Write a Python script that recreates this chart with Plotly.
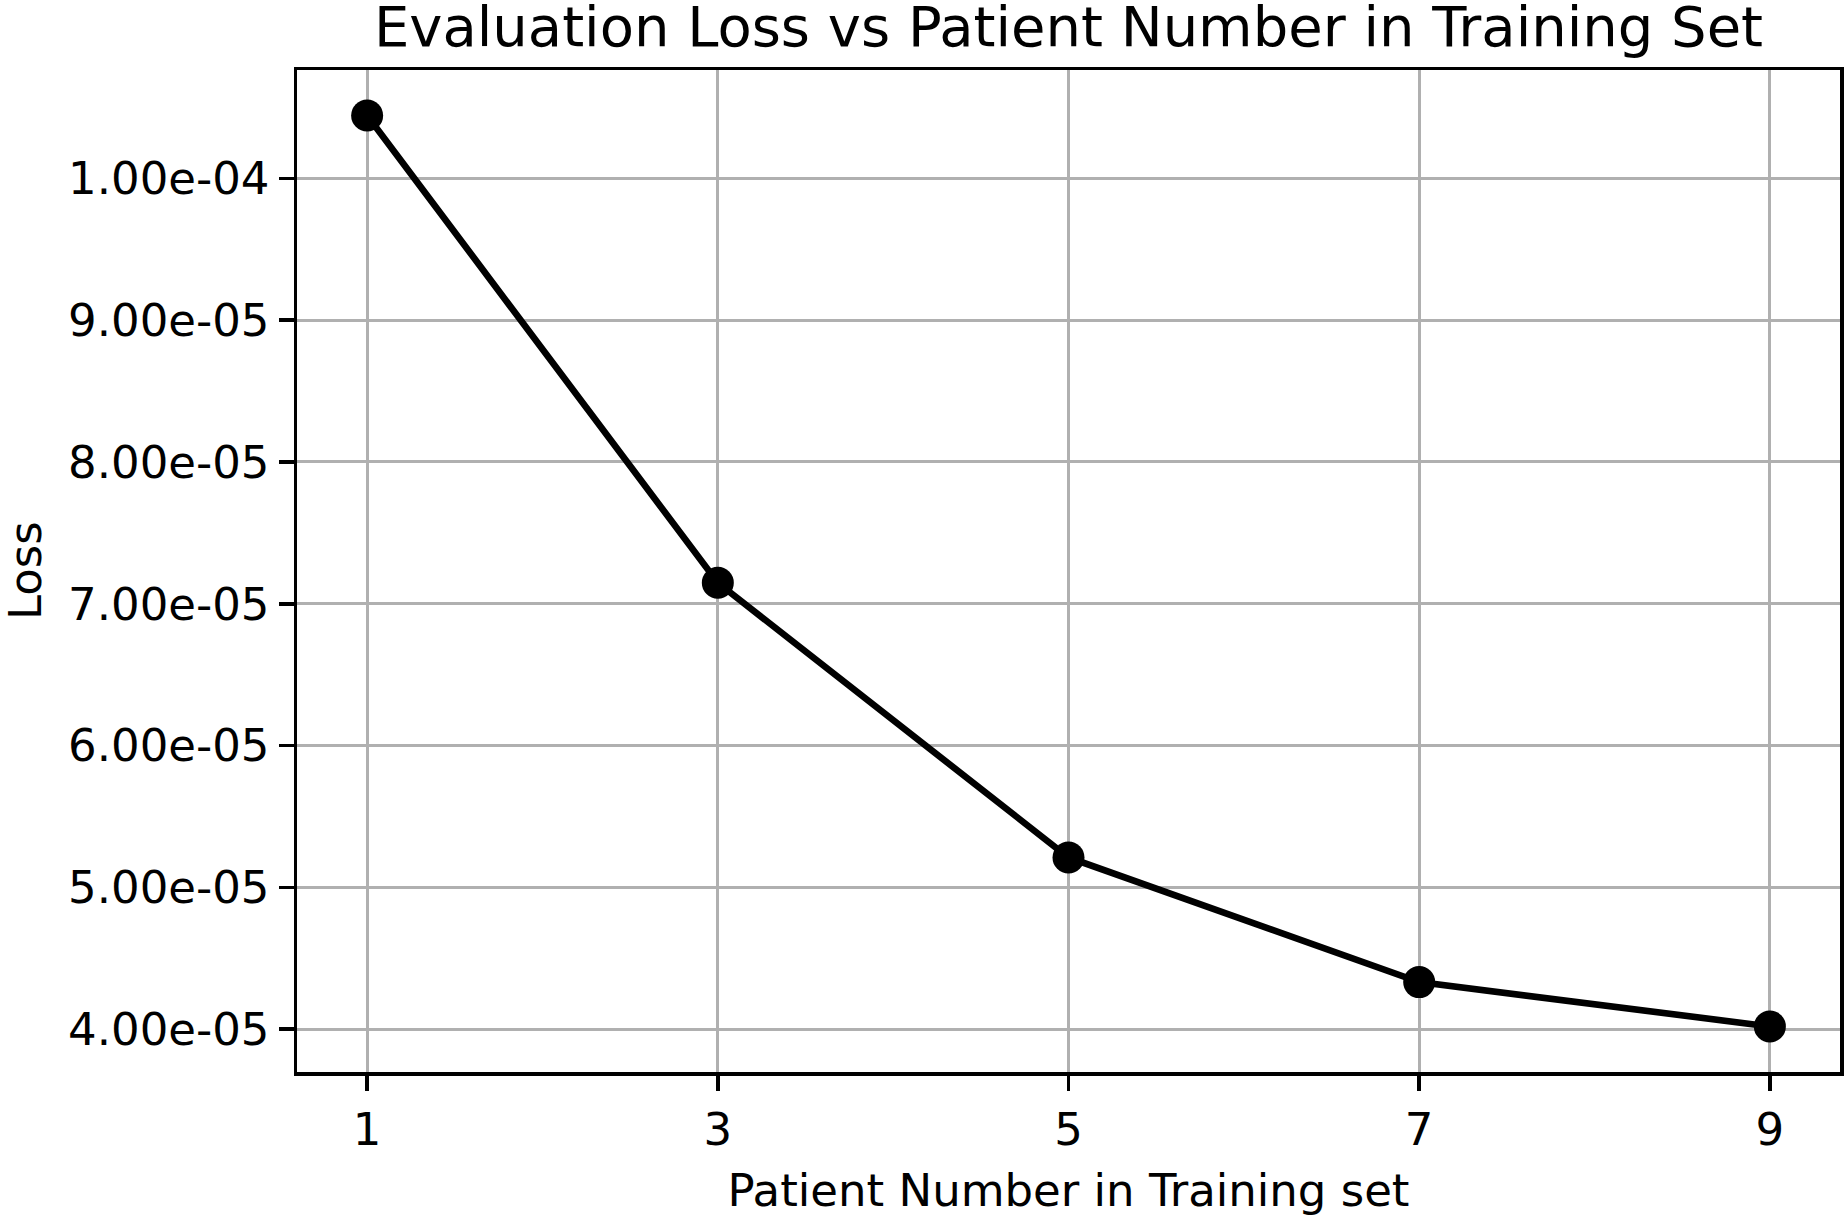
import plotly.graph_objects as go

# Data
patients = [1, 3, 5, 7, 9]
loss = [1.0444e-4, 7.148e-5, 5.21e-5, 4.331e-5, 4.018e-5]
x_tick_vals = [1, 3, 5, 7, 9]
x_tick_text = ["1", "3", "5", "7", "9"]
y_tick_vals = [4e-5, 5e-5, 6e-5, 7e-5, 8e-5, 9e-5, 1e-4]
y_tick_text = ["4.00e-05", "5.00e-05", "6.00e-05", "7.00e-05", "8.00e-05", "9.00e-05", "1.00e-04"]

title_text = "Evaluation Loss vs Patient Number in Training Set"
x_label = "Patient Number in Training set"
y_label = "Loss"

# matplotlib-like 5% margins
xs = max(patients) - min(patients)
ys = max(loss) - min(loss)
x_range = [min(patients) - 0.05 * xs, max(patients) + 0.05 * xs]
y_range = [min(loss) - 0.05 * ys, max(loss) + 0.05 * ys]

FONT = "DejaVu Sans"
W, H = 1844, 1217
ML, MR, MT, MB = 297, 4, 70, 145
PW = W - ML - MR

fig = go.Figure()
fig.add_trace(go.Scatter(
    x=patients, y=loss, mode="lines+markers",
    line=dict(color="black", width=6.6),
    marker=dict(color="black", size=32),
    showlegend=False,
))

fig.update_layout(
    width=W, height=H,
    margin=dict(l=ML, r=MR, t=MT, b=MB, pad=0),
    paper_bgcolor="white", plot_bgcolor="white",
    font=dict(family=FONT, size=45, color="black"),
    title=dict(
        text=title_text, font=dict(family=FONT, size=56, color="black"),
        x=0.5, xref="paper", xanchor="center",
        y=1 - 46 / H, yref="container", yanchor="bottom",
        pad=dict(t=0, b=0, l=0, r=0),
    ),
    xaxis=dict(
        range=x_range, tickmode="array", tickvals=x_tick_vals, ticktext=x_tick_text,
        showline=True, linecolor="black", linewidth=3.5, mirror=True,
        ticks="outside", ticklen=15, tickwidth=3.5, tickcolor="black",
        showgrid=True, gridcolor="#b0b0b0", gridwidth=3,
        zeroline=False, automargin=False,
        title=dict(text=x_label, font=dict(family=FONT, size=45), standoff=23),
        tickfont=dict(family=FONT, size=45),
    ),
    yaxis=dict(
        range=y_range, tickmode="array", tickvals=y_tick_vals, ticktext=y_tick_text,
        showline=True, linecolor="black", linewidth=3.5, mirror=True,
        ticks="outside", ticklen=15, tickwidth=3.5, tickcolor="black",
        showgrid=True, gridcolor="#b0b0b0", gridwidth=3,
        zeroline=False, automargin=False,
        tickfont=dict(family=FONT, size=45),
    ),
    annotations=[dict(
        text=y_label, textangle=-90, showarrow=False,
        xref="paper", yref="paper", x=(25 - ML) / PW, y=0.5,
        xanchor="center", yanchor="middle",
        font=dict(family=FONT, size=45, color="black"),
    )],
)

fig.write_html(
    "out.html",
    config={"displayModeBar": False, "staticPlot": True},
    post_script="document.body.style.margin='0';document.body.style.overflow='hidden';",
)
